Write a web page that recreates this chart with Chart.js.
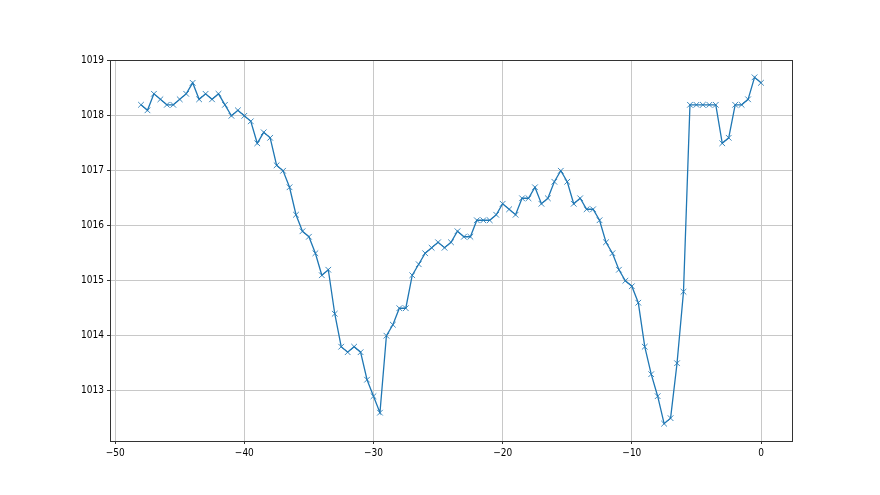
<!DOCTYPE html>
<html>
<head>
<meta charset="utf-8">
<script src="https://cdn.jsdelivr.net/npm/chart.js@4/dist/chart.umd.min.js"></script>
<style>
  html, body { margin: 0; padding: 0; background: #ffffff; }
  #wrap { width: 880px; height: 495px; position: relative; }
</style>
</head>
<body>
<div id="wrap"><canvas id="c" width="880" height="495"></canvas></div>
<script>
// Time offsets (x) and pressure values (y)
const xValues = [];
for (let i = 0; i <= 96; i++) xValues.push(-48 + i * 0.5);
const pressure = [
  1018.2, 1018.1, 1018.4, 1018.3, 1018.2, 1018.2, 1018.3, 1018.4, 1018.6, 1018.3,
  1018.4, 1018.3, 1018.4, 1018.2, 1018.0, 1018.1, 1018.0, 1017.9, 1017.5, 1017.7,
  1017.6, 1017.1, 1017.0, 1016.7, 1016.2, 1015.9, 1015.8, 1015.5, 1015.1, 1015.2,
  1014.4, 1013.8, 1013.7, 1013.8, 1013.7, 1013.2, 1012.9, 1012.6, 1014.0, 1014.2,
  1014.5, 1014.5, 1015.1, 1015.3, 1015.5, 1015.6, 1015.7, 1015.6, 1015.7, 1015.9,
  1015.8, 1015.8, 1016.1, 1016.1, 1016.1, 1016.2, 1016.4, 1016.3, 1016.2, 1016.5,
  1016.5, 1016.7, 1016.4, 1016.5, 1016.8, 1017.0, 1016.8, 1016.4, 1016.5, 1016.3,
  1016.3, 1016.1, 1015.7, 1015.5, 1015.2, 1015.0, 1014.9, 1014.6, 1013.8, 1013.3,
  1012.9, 1012.4, 1012.5, 1013.5, 1014.8, 1018.2, 1018.2, 1018.2, 1018.2, 1018.2,
  1017.5, 1017.6, 1018.2, 1018.2, 1018.3, 1018.7, 1018.6
];
const xTicks = [-50, -40, -30, -20, -10, 0];
const yTicks = [1013, 1014, 1015, 1016, 1017, 1018, 1019];

const points = xValues.map((x, i) => ({ x: x, y: pressure[i] }));

const fmt = v => (v < 0 ? '\u2212' + Math.abs(v) : String(v));
const tickFont = { family: "'Liberation Sans Narrow', 'DejaVu Sans Condensed', 'DejaVu Sans', sans-serif", size: 10 };

const frame = {
  id: 'frame',
  afterDraw(chart) {
    const a = chart.chartArea, ctx = chart.ctx;
    ctx.save();
    ctx.strokeStyle = '#333333';
    ctx.lineWidth = 1;
    ctx.strokeRect(Math.round(a.left) + 0.5, Math.round(a.top) + 0.5,
                   Math.round(a.right - a.left), Math.round(a.bottom - a.top));
    ctx.restore();
  }
};

new Chart(document.getElementById('c'), {
  type: 'scatter',
  data: {
    datasets: [{
      data: points,
      showLine: true,
      borderColor: '#1f77b4',
      backgroundColor: '#1f77b4',
      borderWidth: 1.3,
      pointStyle: 'crossRot',
      pointRadius: 4,
      pointBorderWidth: 1,
      pointBorderColor: 'rgba(31,119,180,0.85)',
      pointHoverRadius: 4,
      tension: 0
    }]
  },
  options: {
    responsive: false,
    animation: false,
    events: [],
    layout: { padding: { left: 0, right: 88, top: 60, bottom: 0 } },
    plugins: { legend: { display: false }, tooltip: { enabled: false } },
    scales: {
      x: {
        type: 'linear',
        min: -50.4,
        max: 2.4,
        afterBuildTicks: s => { s.ticks = xTicks.map(v => ({ value: v })); },
        afterFit: s => { s.height = 54; },
        grid: { color: '#c8c8c8', lineWidth: 1, drawTicks: true, tickLength: 3, tickColor: '#333333' },
        border: { display: false },
        ticks: {
          color: '#000000',
          font: tickFont,
          padding: 3,
          maxRotation: 0,
          autoSkip: false,
          callback: v => fmt(v)
        }
      },
      y: {
        type: 'linear',
        min: 1012.085,
        max: 1019.015,
        afterBuildTicks: s => { s.ticks = yTicks.map(v => ({ value: v })); },
        afterFit: s => { s.width = 110; },
        grid: { color: '#c8c8c8', lineWidth: 1, drawTicks: true, tickLength: 3, tickColor: '#333333' },
        border: { display: false },
        ticks: {
          color: '#000000',
          font: tickFont,
          padding: 3,
          autoSkip: false,
          callback: v => String(v)
        }
      }
    }
  },
  plugins: [frame]
});
</script>
</body>
</html>
